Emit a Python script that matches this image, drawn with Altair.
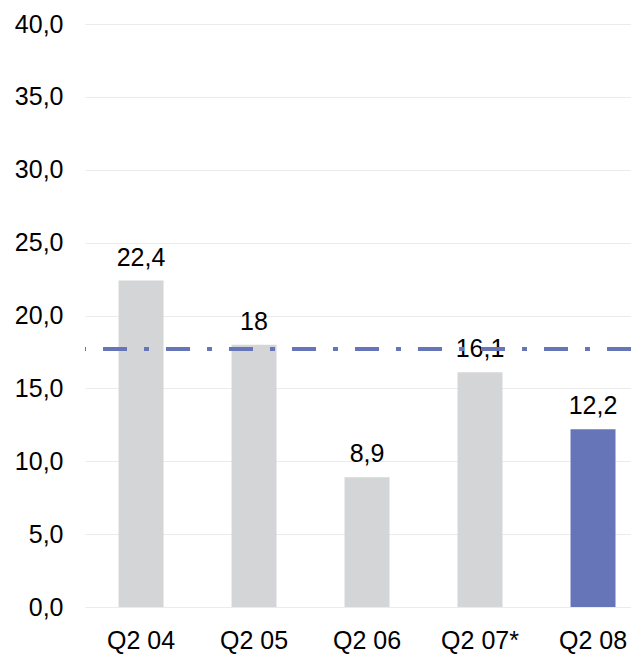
import altair as alt
import pandas as pd

categories = ["Q2 04", "Q2 05", "Q2 06", "Q2 07*", "Q2 08"]
values = [22.4, 18.0, 8.9, 16.1, 12.2]
labels = ["22,4", "18", "8,9", "16,1", "12,2"]
highlight = [False, False, False, False, True]
average = [17.7]

df = pd.DataFrame({"cat": categories, "val": values, "lab": labels, "hl": highlight})
avg_df = pd.DataFrame({"avg": average})

FONT = "Liberation Sans"

x = alt.X("cat:N", sort=categories, title=None,
          scale=alt.Scale(paddingInner=0.602, paddingOuter=0.217, align=0.684),
          axis=alt.Axis(labelAngle=0, labelFont=FONT, labelFontSize=25, labelColor="#000000",
                        labelPadding=21, ticks=False, domain=False, grid=False))
y = alt.Y("val:Q", title=None,
          scale=alt.Scale(domain=[0, 40], nice=False),
          axis=alt.Axis(values=[0, 5, 10, 15, 20, 25, 30, 35, 40],
                        labelExpr="replace(format(datum.value, '.1f'), '.', ',')",
                        labelFont=FONT, labelFontSize=25, labelColor="#000000",
                        labelPadding=22, ticks=False, domain=False,
                        grid=True, gridColor="#ebebeb", gridWidth=1))

base = alt.Chart(df)

bars = base.mark_bar().encode(
    x=x, y=y,
    color=alt.Color("hl:N", scale=alt.Scale(domain=[False, True], range=["#d4d5d7", "#6674b8"]), legend=None),
)

text = base.mark_text(font=FONT, fontSize=25, color="#000000", baseline="alphabetic", dy=-15).encode(
    x=alt.X("cat:N", sort=categories), y="val:Q", text="lab:N"
)

rule = alt.Chart(avg_df).mark_rule(color="#6674b8", strokeWidth=4, strokeDash=[24, 17, 5, 17]).encode(
    y="avg:Q"
)

chart = alt.layer(bars, text, rule).properties(
    width=546, height=583,
    autosize=alt.AutoSizeParams(type="none"),
    padding={"left": 77, "top": 16, "right": 0, "bottom": 50},
).configure_view(stroke=None)

chart.save("out.html", embed_options={"renderer": "svg", "actions": False})
